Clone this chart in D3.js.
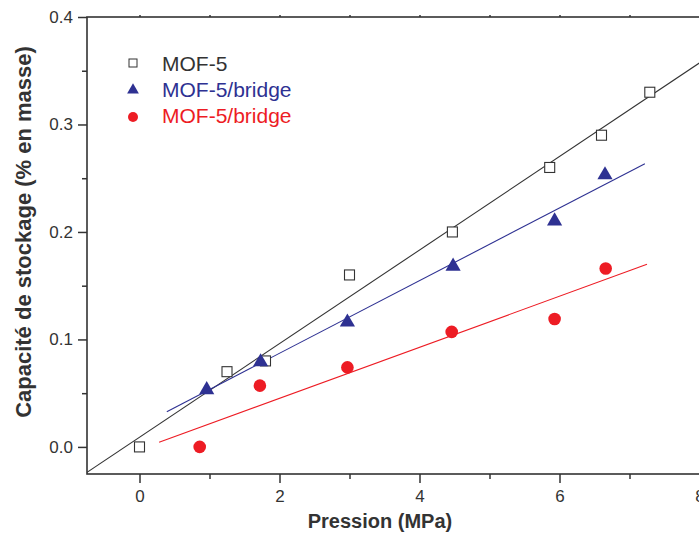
<!DOCTYPE html>
<html><head><meta charset="utf-8">
<script src="https://cdn.jsdelivr.net/npm/d3@7"></script>
<style>body{margin:0;background:#fff}svg{display:block}</style>
</head><body>
<script>
// ---- data ----
const mofX = [0, 1.25, 1.8, 3.0, 4.47, 5.86, 6.6, 7.29];
const mofY = [0, 0.07, 0.08, 0.16, 0.20, 0.26, 0.29, 0.33];
const bridgeAX = [0.96, 1.73, 2.97, 4.48, 5.93, 6.65];
const bridgeAY = [0.054, 0.080, 0.117, 0.169, 0.211, 0.254];
const bridgeBX = [0.86, 1.72, 2.97, 4.46, 5.93, 6.66];
const bridgeBY = [0.0, 0.057, 0.074, 0.107, 0.119, 0.166];
const fitRangeMof = [-0.75, 8.5];
const fitRangeA = [0.39, 7.22];
const fitRangeB = [0.28, 7.25];
const xTicks = [0, 2, 4, 6, 8];
const xMinor = [1, 3, 5, 7];
const yTicks = [0.0, 0.1, 0.2, 0.3, 0.4];
const yMinor = [0.05, 0.15, 0.25, 0.35];
const legendLabels = ["MOF-5", "MOF-5/bridge", "MOF-5/bridge"];

const W = 699, H = 536;
const svg = d3.select("body").append("svg").attr("width", W).attr("height", H);
const x = d3.scaleLinear().domain([-0.75, 8.5]).range([87, 734.5]);
const y = d3.scaleLinear().domain([-0.0252, 0.4]).range([474, 17]);
const axisCol = "#333";
const font = "'Liberation Sans', Arial, Helvetica, sans-serif";

svg.append("defs").append("clipPath").attr("id", "clip")
  .append("rect").attr("x", 87).attr("y", 17).attr("width", 734.5 - 87).attr("height", 474 - 17);

// regression
function fit(xs, ys) {
  const mx = d3.mean(xs), my = d3.mean(ys);
  let sxy = 0, sxx = 0;
  xs.forEach((v, i) => { sxy += (v - mx) * (ys[i] - my); sxx += (v - mx) * (v - mx); });
  const b = sxy / sxx;
  return { b, a: my - b * mx };
}
const lineGen = d3.line().x(d => x(d[0])).y(d => y(d[1]));
function drawFit(xs, ys, range, col) {
  const f = fit(xs, ys);
  const pts = range.map(v => [v, f.a + f.b * v]);
  svg.append("path").attr("d", lineGen(pts)).attr("fill", "none")
    .attr("stroke", col).attr("stroke-width", 1.1).attr("clip-path", "url(#clip)");
}
const blue = "#2e3192", red = "#ed1c24";
drawFit(mofX, mofY, fitRangeMof, "#333");
drawFit(bridgeAX, bridgeAY, fitRangeA, blue);
drawFit(bridgeBX, bridgeBY, fitRangeB, red);

// axes
const gx = svg.append("g").attr("transform", "translate(0,474)")
  .call(d3.axisBottom(x).tickValues(xTicks).tickSize(9).tickPadding(7).tickFormat(d3.format("d")));
const gxm = svg.append("g").attr("transform", "translate(0,474)")
  .call(d3.axisBottom(x).tickValues(xMinor).tickSize(5).tickFormat(""));
const gy = svg.append("g").attr("transform", "translate(87,0)")
  .call(d3.axisLeft(y).tickValues(yTicks).tickSize(9).tickPadding(5).tickFormat(d3.format(".1f")));
const gym = svg.append("g").attr("transform", "translate(87,0)")
  .call(d3.axisLeft(y).tickValues(yMinor).tickSize(5).tickFormat(""));
const gt = svg.append("g").attr("transform", "translate(0,17)")
  .call(d3.axisTop(x).tickValues(xTicks.concat(xMinor)).tickSize(2).tickFormat(""));
[gx, gxm, gy, gym, gt].forEach(g => {
  g.select(".domain").remove();
  g.selectAll("line").attr("stroke", axisCol).attr("stroke-width", 1.5);
  g.selectAll("text").attr("fill", "#333").style("font-family", font).style("font-size", "17px");
});
// frame
svg.append("rect").attr("x", 87).attr("y", 17).attr("width", 734.5 - 87).attr("height", 474 - 17)
  .attr("fill", "none").attr("stroke", axisCol).attr("stroke-width", 1.6);

// markers
const sq = 10;
svg.append("g").selectAll("rect").data(mofX.map((v, i) => [v, mofY[i]])).join("rect")
  .attr("x", d => x(d[0]) - sq / 2).attr("y", d => y(d[1]) - sq / 2)
  .attr("width", sq).attr("height", sq).attr("fill", "#fff").attr("stroke", "#333").attr("stroke-width", 1.1);
const tri = d3.symbol().type(d3.symbolTriangle).size(100);
svg.append("g").selectAll("path").data(bridgeAX.map((v, i) => [v, bridgeAY[i]])).join("path")
  .attr("d", tri).attr("transform", d => `translate(${x(d[0])},${y(d[1]) + 1})`).attr("fill", blue);
svg.append("g").selectAll("circle").data(bridgeBX.map((v, i) => [v, bridgeBY[i]])).join("circle")
  .attr("cx", d => x(d[0])).attr("cy", d => y(d[1])).attr("r", 6.3).attr("fill", red);

// legend
const lg = svg.append("g");
lg.append("rect").attr("x", 129).attr("y", 59).attr("width", 8).attr("height", 8)
  .attr("fill", "#fff").attr("stroke", "#333").attr("stroke-width", 1);
lg.append("path").attr("d", d3.symbol().type(d3.symbolTriangle).size(60)).attr("transform", "translate(133,90)").attr("fill", blue);
lg.append("circle").attr("cx", 133).attr("cy", 117).attr("r", 5).attr("fill", red);
const lcols = ["#333", blue, red];
legendLabels.forEach((t, i) => {
  lg.append("text").attr("x", 162).attr("y", 71 + i * 26).text(t)
    .attr("fill", lcols[i]).style("font-family", font).style("font-size", "21px");
});

// titles
svg.append("text").attr("x", 380).attr("y", 528).attr("text-anchor", "middle")
  .style("font-family", font).style("font-weight", "bold").style("font-size", "20px").attr("fill", "#333")
  .text("Pression (MPa)");
svg.append("text").attr("transform", "translate(31,232) rotate(-90)").attr("text-anchor", "middle")
  .style("font-family", font).style("font-weight", "bold").style("font-size", "22px").attr("fill", "#333")
  .text("Capacité de stockage (% en masse)");
</script>
</body></html>
